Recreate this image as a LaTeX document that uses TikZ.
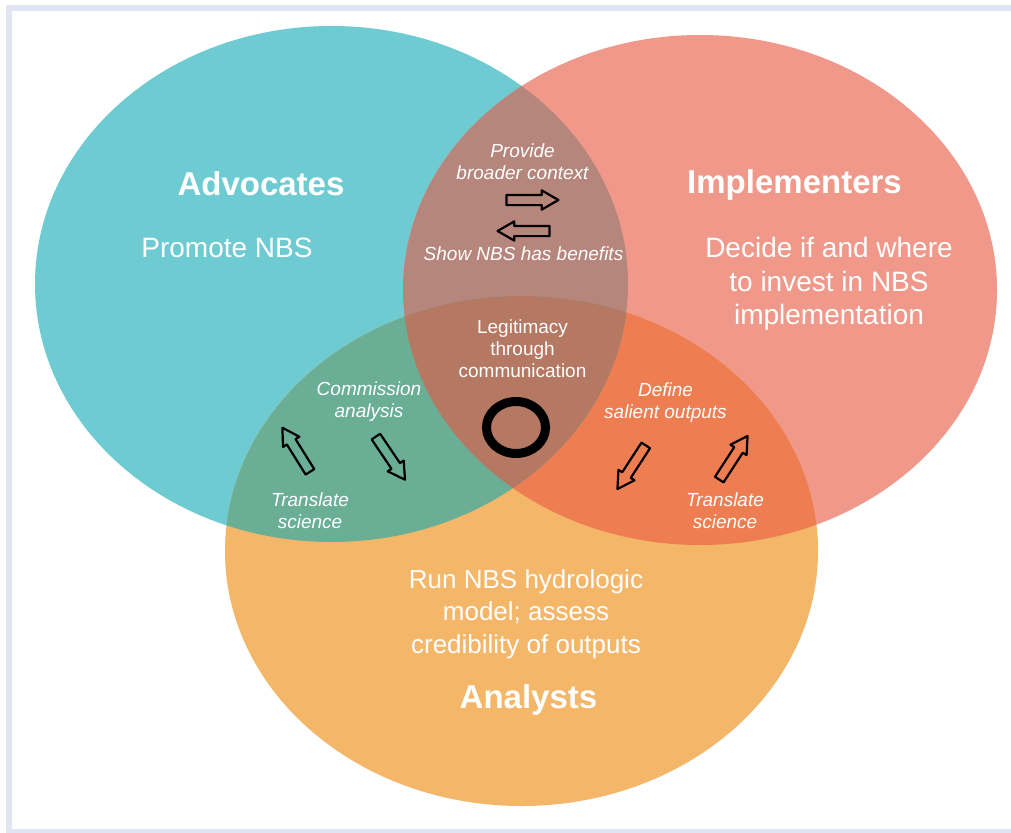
\documentclass[tikz,border=0pt]{standalone}
\usepackage{fontspec}
\setmainfont{Liberation Sans}
\usetikzlibrary{shapes.arrows}

\definecolor{advteal}{HTML}{6ECBD2}
\definecolor{impred}{HTML}{F0988A}
\definecolor{anaorange}{HTML}{F4B668}
\definecolor{advimp}{HTML}{B6867C}
\definecolor{advana}{HTML}{6AAE96}
\definecolor{impana}{HTML}{EE7D52}
\definecolor{allthree}{HTML}{B57862}
\definecolor{framegray}{HTML}{E1E4F2}

\begin{document}
\begin{tikzpicture}[x=1pt, y=-1pt,
  heading/.style={text=white, anchor=base, font=\fontsize{33}{40}\selectfont\bfseries},
  role/.style={text=white, align=center, font=\fontsize{28}{33.5}\selectfont},
  flow/.style={text=white, align=center, font=\fontsize{19}{22}\selectfont\itshape},
  handoff/.style={single arrow, draw=black, line width=2.2pt, line join=round,
    inner xsep=0pt, inner ysep=4pt, minimum width=0pt, minimum height=52pt,
    single arrow head extend=4.5pt, single arrow tip angle=60}]
  \clip (0,0) rectangle (1011,832);
  \fill[white] (0,0) rectangle (1011,832);
  \draw[framegray, line width=6pt] (9,8) rectangle (1030,832);

  % the three groups
  \fill[advteal] (331.5,284) ellipse [x radius=296.5pt, y radius=258pt];
  \fill[impred] (700,290) ellipse [x radius=297pt, y radius=255pt];
  \fill[anaorange] (521.5,551) ellipse [x radius=296.5pt, y radius=255pt];

  % overlaps
  \begin{scope}
    \clip (700,290) ellipse [x radius=297pt, y radius=255pt];
    \fill[impana] (521.5,551) ellipse [x radius=296.5pt, y radius=255pt];
  \end{scope}
  \begin{scope}
    \clip (331.5,284) ellipse [x radius=296.5pt, y radius=258pt];
    \fill[advimp] (700,290) ellipse [x radius=297pt, y radius=255pt];
    \fill[advana] (521.5,551) ellipse [x radius=296.5pt, y radius=255pt];
    \clip (700,290) ellipse [x radius=297pt, y radius=255pt];
    \fill[allthree] (521.5,551) ellipse [x radius=296.5pt, y radius=255pt];
  \end{scope}

  \draw[black, line width=9pt] (516,427.5) ellipse [x radius=29.5pt, y radius=26pt];

  % labels
  \node[heading] (advocates) at (261,195) {Advocates};
  \node[role, anchor=base] (promote) at (227,257) {Promote NBS};
  \node[heading] (implementers) at (794.5,193) {Implementers};
  \node[role] (decide) at (829,284) {Decide if and where\\to invest in NBS\\implementation};
  \node[role, font=\fontsize{26}{32.5}\selectfont] (runmodel) at (526,614) {Run NBS hydrologic\\model; assess\\credibility of outputs};
  \node[heading] (analysts) at (528.5,708) {Analysts};

  \node[flow] (context) at (522.5,161.5) {Provide\\broader context};
  \node[flow, anchor=base] (benefits) at (523.5,260) {Show NBS has benefits};
  \node[flow, font=\fontsize{19}{22}\selectfont] (legitimacy) at (522.5,348.5) {Legitimacy\\through\\communication};
  \node[flow] (commission) at (369,401.5) {Commission\\analysis};
  \node[flow] (translateleft) at (310,510.5) {Translate\\science};
  \node[flow] (salient) at (665.5,402.5) {Define\\salient outputs};
  \node[flow] (translateright) at (725,510.5) {Translate\\science};

  % hand-offs
  \node[handoff] (advtoimp) at (528,200) {};
  \node[handoff, rotate=180] (imptoadv) at (528,231) {};
  \node[handoff, rotate=122] (anatoadv) at (298.5,453.5) {};
  \node[handoff, rotate=-56] (advtoana) at (388,454.5) {};
  \node[handoff, rotate=-123] (imptoana) at (634,463.5) {};
  \node[handoff, rotate=57] (anatoimp) at (731,461.5) {};
\end{tikzpicture}
\end{document}
